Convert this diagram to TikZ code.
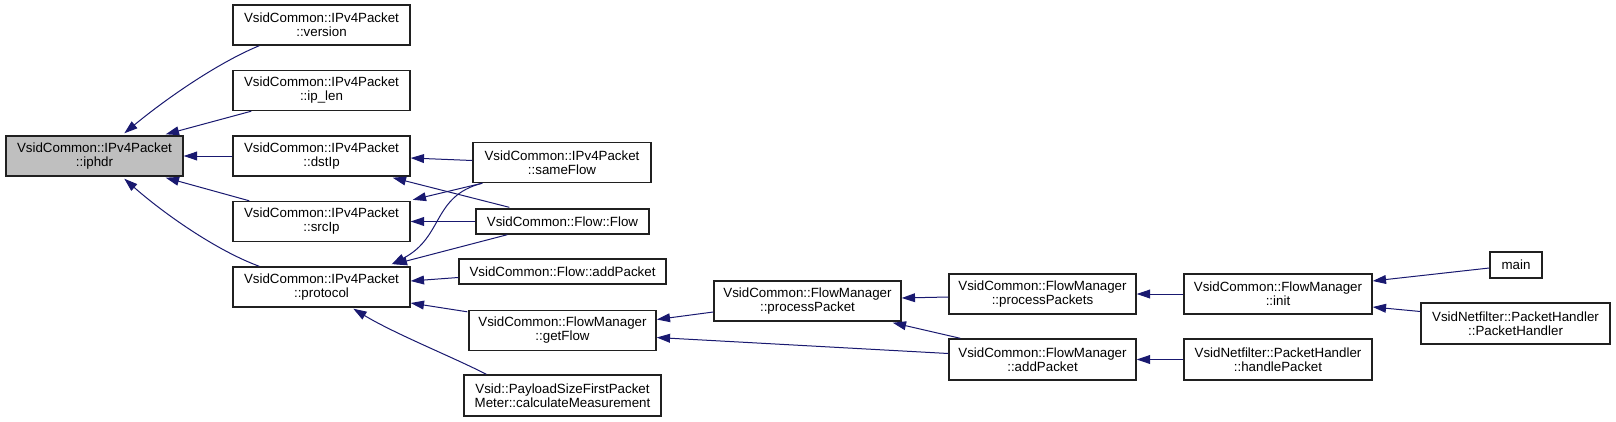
\documentclass[tikz,border=0pt]{standalone}
\usepackage{fontspec}
\setmainfont{Liberation Sans}
\usetikzlibrary{arrows.meta,calc}
\definecolor{edgeblue}{HTML}{191970}
\definecolor{hlgray}{HTML}{BFBFBF}
\definecolor{boxline}{HTML}{202020}
\tikzset{
  box/.style={draw=boxline,line width=1.05pt,fill=white,inner sep=0pt,align=center,
    font=\fontsize{10}{10.5}\selectfont},
  hl/.style={box,fill=hlgray},
  edge/.style={draw=edgeblue,line width=0.75pt,-{Triangle[length=10pt,width=6.6pt]}},
}
\begin{document}
\begin{tikzpicture}[x=0.75pt,y=-0.75pt]
\useasboundingbox[fill=white] (0,0) rectangle (1616,421);
% nodes
\node[hl,minimum width=132.75pt,minimum height=30pt] (iphdr) at (94.5,156) {VsidCommon::IPv4Packet\\::iphdr};
\node[box,minimum width=132.75pt,minimum height=30pt] (version) at (321.5,25) {VsidCommon::IPv4Packet\\::version};
\node[box,minimum width=132.75pt,minimum height=30pt] (iplen) at (321.5,90.5) {VsidCommon::IPv4Packet\\::ip\_len};
\node[box,minimum width=132.75pt,minimum height=30pt] (dstip) at (321.5,156) {VsidCommon::IPv4Packet\\::dstIp};
\node[box,minimum width=132.75pt,minimum height=30pt] (srcip) at (321.5,221.5) {VsidCommon::IPv4Packet\\::srcIp};
\node[box,minimum width=132.75pt,minimum height=30pt] (protocol) at (321.5,287) {VsidCommon::IPv4Packet\\::protocol};
\node[box,minimum width=133.5pt,minimum height=30pt] (sameflow) at (562,162.5) {VsidCommon::IPv4Packet\\::sameFlow};
\node[box,minimum width=129.75pt,minimum height=18.75pt] (flow) at (562.5,221.5) {VsidCommon::Flow::Flow};
\node[box,minimum width=155.25pt,minimum height=18.75pt] (flowadd) at (562.5,271.5) {VsidCommon::Flow::addPacket};
\node[box,minimum width=140.25pt,minimum height=30pt] (getflow) at (562.5,330.5) {VsidCommon::FlowManager\\::getFlow};
\node[box,minimum width=147.75pt,minimum height=30.75pt] (payload) at (562.5,395.5) {Vsid::PayloadSizeFirstPacket\\Meter::calculateMeasurement};
\node[box,minimum width=140.25pt,minimum height=30pt] (procpkt) at (807.5,301) {VsidCommon::FlowManager\\::processPacket};
\node[box,minimum width=140.25pt,minimum height=30pt] (procpkts) at (1042.5,294) {VsidCommon::FlowManager\\::processPackets};
\node[box,minimum width=140.25pt,minimum height=30.75pt] (fmadd) at (1042.5,359.5) {VsidCommon::FlowManager\\::addPacket};
\node[box,minimum width=141pt,minimum height=30pt] (init) at (1278,294) {VsidCommon::FlowManager\\::init};
\node[box,minimum width=141pt,minimum height=30.75pt] (handle) at (1278,359.5) {VsidNetfilter::PacketHandler\\::handlePacket};
\node[box,minimum width=39pt,minimum height=19.5pt] (main) at (1516,265) {main};
\node[box,minimum width=141.75pt,minimum height=30.75pt] (pkthandler) at (1515.5,323.5) {VsidNetfilter::PacketHandler\\::PacketHandler};
% edges into iphdr
\draw[edge] ($(version.south west)+(27,0)$) .. controls (215,64) and (162,102) .. ($(iphdr.north west)+(119,-2)$);
\draw[edge] ($(iplen.south west)+(19,0)$) -- ($(iphdr.north east)+(-18,-1)$);
\draw[edge] (dstip.west) -- (iphdr.east);
\draw[edge] ($(srcip.north west)+(17,0)$) -- ($(iphdr.south east)+(-18,1)$);
\draw[edge] ($(protocol.north west)+(27,0)$) .. controls (215,250) and (162,212) .. ($(iphdr.south west)+(119,2)$);
% edges into dstIp
\draw[edge] ($(sameflow.west)+(0,-2)$) -- ($(dstip.east)+(0,2)$);
\draw[edge] ($(flow.north west)+(34,-1)$) -- ($(dstip.south east)+(-18,1)$);
% edges into srcIp
\draw[edge] ($(sameflow.south west)+(10,0)$) -- ($(srcip.north east)+(2,-1)$);
\draw[edge] (flow.west) -- (srcip.east);
% edges into protocol
\draw[edge] ($(sameflow.south west)+(10,0)$) .. controls (432,196) and (444,237) .. ($(protocol.north east)+(-19,-2)$);
\draw[edge] ($(flow.south west)+(32,0)$) -- ($(protocol.north east)+(-17,-2)$);
\draw[edge] ($(flowadd.west)+(0,6)$) -- ($(protocol.east)+(0,-6)$);
\draw[edge] ($(getflow.north west)+(-1,2)$) -- ($(protocol.east)+(0,16)$);
\draw[edge] ($(payload.north west)+(23,0)$) .. controls (455,358) and (395,334) .. ($(protocol.south west)+(121,1)$);
% right part
\draw[edge] ($(procpkt.west)+(0,11)$) -- ($(getflow.east)+(0,-11)$);
\draw[edge] ($(fmadd.west)+(0,-6)$) -- ($(getflow.east)+(0,7)$);
\draw[edge] ($(procpkts.west)+(0,3)$) -- ($(procpkt.east)+(0,-3)$);
\draw[edge] ($(fmadd.north west)+(12,0)$) -- ($(procpkt.south east)+(-9,1)$);
\draw[edge] (init.west) -- (procpkts.east);
\draw[edge] (handle.west) -- (fmadd.east);
\draw[edge] ($(main.west)+(0,3)$) -- ($(init.east)+(0,-13)$);
\draw[edge] ($(pkthandler.west)+(0,-12)$) -- ($(init.east)+(0,13)$);
\end{tikzpicture}
\end{document}
